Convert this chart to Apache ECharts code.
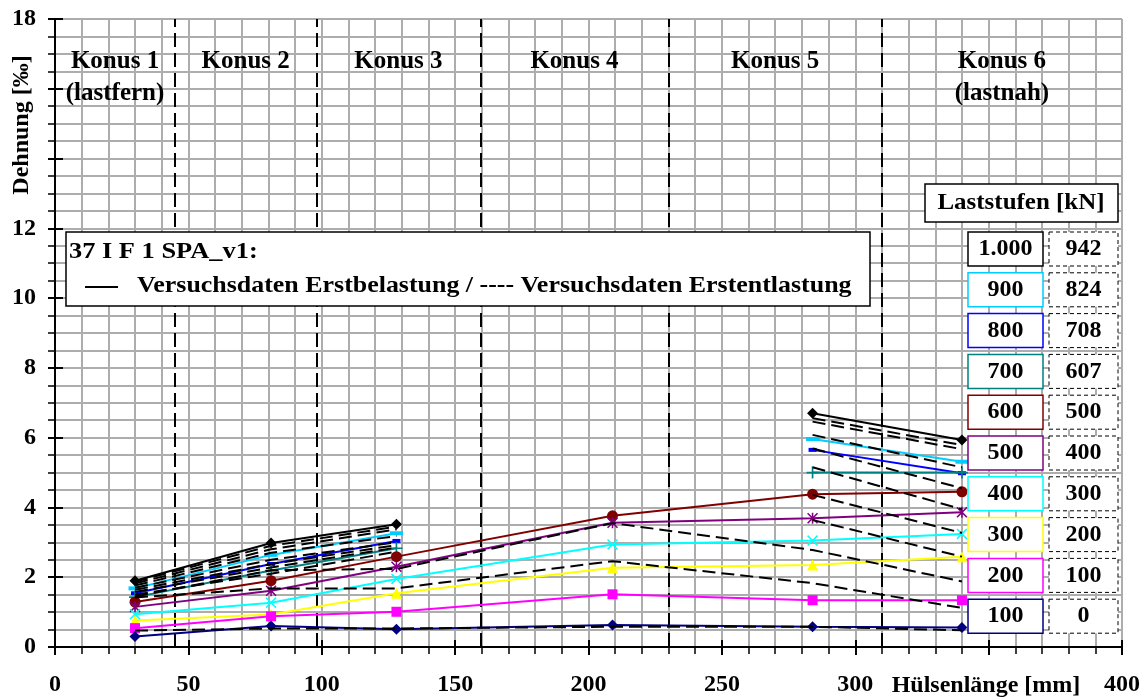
<!DOCTYPE html>
<html>
<head>
<meta charset="utf-8">
<script src="https://cdn.jsdelivr.net/npm/echarts@6/dist/echarts.min.js"></script>
<style>
  html, body { margin: 0; padding: 0; background: #fff; }
  #chart { width: 1146px; height: 700px; }
</style>
</head>
<body>
<div id="chart"></div>
<script>
// Gauge positions along the sleeve [mm]
const positions = [30, 81, 128, 209, 284, 340];

// Cone boundaries [mm] and cone titles
const konusBounds = [45, 98, 159.5, 230, 310];
const konusNames = ['Konus 1\n(lastfern)', 'Konus 2', 'Konus 3', 'Konus 4', 'Konus 5', 'Konus 6\n(lastnah)'];

// Load steps [kN]: first loading and first unloading
const loadLabels = ['1.000', '900', '800', '700', '600', '500', '400', '300', '200', '100'];
const unloadLabels = ['942', '824', '708', '607', '500', '400', '300', '200', '100', '0'];

// Strain [‰] during first loading (one value per gauge position)
const load1000 = [1.90, 2.98, 3.52, null, 6.70, 5.93];
const load900  = [1.68, 2.64, 3.26, null, 5.96, 5.31];
const load800  = [1.54, 2.38, 3.04, null, 5.65, 4.98];
const load700  = [1.43, 2.19, 2.83, null, 5.00, 5.00];
const load600  = [1.29, 1.90, 2.59, 3.76, 4.38, 4.45];
const load500  = [1.15, 1.61, 2.30, 3.56, 3.69, 3.86];
const load400  = [0.94, 1.27, 1.95, 2.94, 3.05, 3.24];
const load300  = [0.76, 0.93, 1.54, 2.27, 2.35, 2.59];
const load200  = [0.54, 0.88, 1.01, 1.51, 1.34, 1.34];
const load100  = [0.30, 0.60, 0.51, 0.63, 0.58, 0.56];

// Strain [‰] during first unloading
const unload942 = [1.87, 2.90, 3.45, null, 6.56, 5.79];
const unload824 = [1.82, 2.80, 3.37, null, 6.46, 5.67];
const unload708 = [1.76, 2.70, 3.18, null, 6.08, 5.15];
const unload607 = [1.70, 2.50, 3.00, null, 5.69, 4.55];
const unload500 = [1.64, 2.38, 2.92, null, 5.15, 3.95];
const unload400 = [1.58, 2.28, 2.85, null, 4.36, 3.27];
const unload300 = [1.50, 2.10, 2.73, null, 3.64, 2.59];
const unload200 = [1.45, 2.20, 2.24, 3.55, 2.78, 1.88];
const unload100 = [1.42, 1.68, 1.68, 2.46, 1.83, 1.12];
const unload0   = [0.47, 0.53, 0.53, 0.58, 0.58, 0.48];

const loadSeries = [load1000, load900, load800, load700, load600, load500, load400, load300, load200, load100];
const unloadSeries = [unload942, unload824, unload708, unload607, unload500, unload400, unload300, unload200, unload100, unload0];

const loadColors = ['#000000', '#00ccff', '#0000ff', '#008080', '#800000', '#800080', '#00ffff', '#ffff00', '#ff00ff', '#000080'];

const X_SYM = 'path://M0,1 L1,0 L5,4 L9,0 L10,1 L6,5 L10,9 L9,10 L5,6 L1,10 L0,9 L4,5 Z';
const STAR_SYM = 'path://M0,1 L1,0 L5,4 L9,0 L10,1 L6,5 L10,9 L9,10 L5,6 L1,10 L0,9 L4,5 Z M4.3,0 L5.7,0 L5.7,10 L4.3,10 Z';
const PLUS_SYM = 'path://M4.3,0 L5.7,0 L5.7,4.3 L10,4.3 L10,5.7 L5.7,5.7 L5.7,10 L4.3,10 L4.3,5.7 L0,5.7 L0,4.3 L4.3,4.3 Z';
const markers = [
  ['diamond', 11], ['rect', [13, 4]], ['rect', [8, 4]], [PLUS_SYM, 12], ['circle', 11],
  [STAR_SYM, 11], [X_SYM, 11], ['triangle', 11], ['rect', 10], ['diamond', 11]
];

// Axis ranges
const X_MIN = 0, X_MAX = 400, X_STEP = 50;
const Y_MIN = 0, Y_MAX = 18, Y_STEP = 2;

const GRID_COLOR = '#adadad';
const FONT = '"Liberation Serif", "Times New Roman", serif';
const txt = (size) => ({ fontFamily: FONT, fontWeight: 'bold', fontSize: size, color: '#000' });

const series = [];

// Cone boundaries as dashed vertical lines
series.push({
  type: 'line',
  data: [],
  markLine: {
    silent: true,
    z: 2,
    symbol: ['none', 'none'],
    label: { show: false },
    lineStyle: { color: '#000', width: 2, type: [14, 6] },
    data: konusBounds.map(x => ({ xAxis: x }))
  },
  z: 2
});

// First loading: coloured solid lines with markers
loadSeries.forEach((vals, i) => {
  series.push({
    name: loadLabels[i] + ' kN',
    type: 'line',
    data: positions.map((x, j) => [x, vals[j]]),
    connectNulls: false,
    symbol: markers[i][0],
    symbolSize: markers[i][1],
    itemStyle: { color: loadColors[i] },
    lineStyle: { color: loadColors[i], width: 2 },
    z: 3
  });
});

// First unloading: black dashed lines
unloadSeries.forEach((vals, i) => {
  series.push({
    name: unloadLabels[i] + ' kN (Entlastung)',
    type: 'line',
    data: positions.map((x, j) => [x, vals[j]]),
    connectNulls: false,
    symbol: 'none',
    lineStyle: { color: '#000', width: 2, type: [13, 6] },
    z: 4
  });
});

// Cone titles, centred between boundaries
const edges = [X_MIN, ...konusBounds, X_MAX];
series.push({
  type: 'scatter',
  symbolSize: 0,
  silent: true,
  itemStyle: { opacity: 1 },
  data: konusNames.map((n, i) => ({ value: [(edges[i] + edges[i + 1]) / 2, 17.25], name: n })),
  label: {
    show: true,
    position: 'inside',
    verticalAlign: 'top',
    opacity: 1,
    formatter: p => p.name,
    lineHeight: 32,
    ...txt(25)
  },
  z: 5
});

// Legend overlays
const graphic = [];
graphic.push({
  type: 'text', x: 22, y: 125, rotation: Math.PI / 2, z: 100,
  style: { text: 'Dehnung [‰]', align: 'center', verticalAlign: 'middle', font: 'bold 24px ' + FONT, fill: '#000' }
});
graphic.push({
  type: 'text', x: 986, y: 686, z: 100,
  style: { text: 'Hülsenlänge [mm]', align: 'center', verticalAlign: 'middle', font: 'bold 24px ' + FONT, fill: '#000' }
});
graphic.push({
  type: 'rect', z: 100, shape: { x: 66, y: 232, width: 804, height: 74 },
  style: { fill: '#fff', stroke: '#000', lineWidth: 1.5 }
});
graphic.push({
  type: 'text', x: 69, y: 252, z: 101, scaleX: 1.1,
  style: { text: '37 I F 1 SPA_v1:', align: 'left', verticalAlign: 'middle', font: 'bold 24px ' + FONT, fill: '#000' }
});
graphic.push({
  type: 'line', z: 101, shape: { x1: 85, y1: 287, x2: 118, y2: 287 },
  style: { stroke: '#000', lineWidth: 2 }
});
graphic.push({
  type: 'text', x: 137, y: 286, z: 101, scaleX: 1.08,
  style: { text: 'Versuchsdaten Erstbelastung / ---- Versuchsdaten Erstentlastung', align: 'left', verticalAlign: 'middle', font: 'bold 24px ' + FONT, fill: '#000' }
});
graphic.push({
  type: 'rect', z: 100, shape: { x: 925, y: 184, width: 193, height: 38 },
  style: { fill: '#fff', stroke: '#000', lineWidth: 1.5 }
});
graphic.push({
  type: 'text', x: 1021, y: 203, z: 101, scaleX: 1.04,
  style: { text: 'Laststufen [kN]', align: 'center', verticalAlign: 'middle', font: 'bold 24px ' + FONT, fill: '#000' }
});
loadLabels.forEach((lab, i) => {
  const top = 232 + i * 40.8;
  graphic.push({
    type: 'rect', z: 100, shape: { x: 968, y: top, width: 75, height: 34 },
    style: { fill: '#fff', stroke: loadColors[i], lineWidth: 1.5 }
  });
  graphic.push({
    type: 'text', x: 1005.5, y: top + 17, z: 101,
    style: { text: lab, align: 'center', verticalAlign: 'middle', font: 'bold 24px ' + FONT, fill: '#000' }
  });
  graphic.push({
    type: 'rect', z: 100, shape: { x: 1049, y: top, width: 69, height: 34 },
    style: { fill: '#fff', stroke: '#000', lineWidth: 1, lineDash: [4, 3] }
  });
  graphic.push({
    type: 'text', x: 1083.5, y: top + 17, z: 101,
    style: { text: unloadLabels[i], align: 'center', verticalAlign: 'middle', font: 'bold 24px ' + FONT, fill: '#000' }
  });
});

const gridLine = () => ({ show: true, lineStyle: { color: GRID_COLOR, width: 2, type: 'solid', opacity: 1 } });

const option = {
  animation: false,
  backgroundColor: '#fff',
  grid: { left: 55, right: 24, top: 19, bottom: 53 },
  xAxis: [
    {
      type: 'value', min: X_MIN, max: X_MAX, interval: X_STEP,
      axisLine: { show: true, onZero: false, lineStyle: { color: '#000', width: 2 } },
      axisTick: { show: true, length: 8, lineStyle: { color: '#000', width: 2 } },
      minorTick: { show: true, splitNumber: 5, length: 7, lineStyle: { color: '#000', width: 1.5 } },
      splitLine: gridLine(),
      minorSplitLine: gridLine(),
      axisLabel: { margin: 26, formatter: v => (v === 350 ? '' : String(v)), ...txt(24) }
    },
    {
      // inner half of the major ticks
      type: 'value', min: X_MIN, max: X_MAX, interval: X_STEP, position: 'bottom',
      axisLine: { show: false },
      axisTick: { show: true, inside: true, length: 7, lineStyle: { color: '#000', width: 2 } },
      splitLine: { show: false },
      axisLabel: { show: false }
    }
  ],
  yAxis: [
    {
      type: 'value', min: Y_MIN, max: Y_MAX, interval: Y_STEP,
      axisLine: { show: true, onZero: false, lineStyle: { color: '#000', width: 2 } },
      axisTick: { show: true, length: 7, lineStyle: { color: '#000', width: 2 } },
      minorTick: { show: true, splitNumber: 4, length: 7, lineStyle: { color: '#000', width: 1.5 } },
      splitLine: gridLine(),
      minorSplitLine: gridLine(),
      axisLabel: { margin: 19, formatter: v => (v === 14 || v === 16 ? '' : String(v)), ...txt(24) }
    },
    {
      type: 'value', min: Y_MIN, max: Y_MAX, interval: Y_STEP, position: 'left',
      axisLine: { show: false },
      axisTick: { show: true, inside: true, length: 8, lineStyle: { color: '#000', width: 2 } },
      splitLine: { show: false },
      axisLabel: { show: false }
    }
  ],
  series,
  graphic
};

const chart = echarts.init(document.getElementById('chart'), null, { renderer: 'canvas' });
chart.setOption(option);
</script>
</body>
</html>
